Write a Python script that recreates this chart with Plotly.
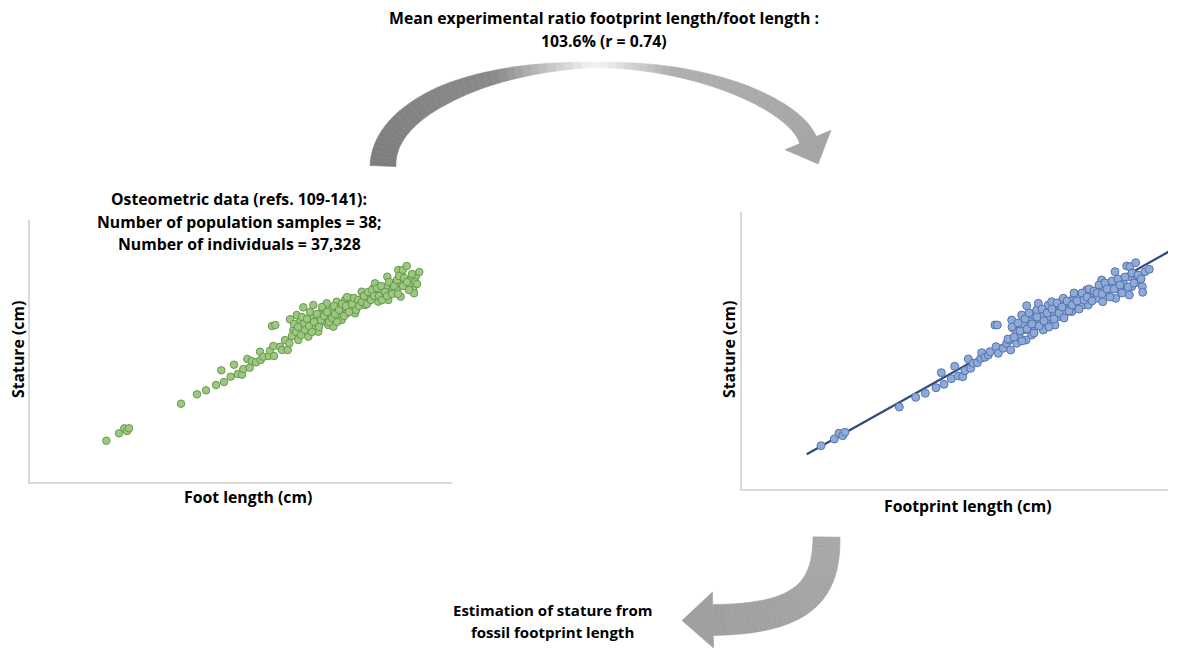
import numpy as np
import plotly.graph_objects as go

W, H = 1187, 640   # page body keeps an 8px margin
OFF = 8

# ---------------- data (arbitrary plot units) ----------------
foot_length = [76.3, 89, 94.3, 97, 99, 151, 167, 176, 186, 194, 191.3, 200.7, 204, 207.7, 212, 213.3,
               217.3, 219.7, 221.7, 226, 230, 230.7, 233.3, 238.7, 240, 243.3, 244, 242, 245.3, 250,
               252, 255, 257.7, 259.3, 260, 263.3, 266.7, 268.3, 270, 273.3, 274, 276.7, 278.3, 281.7,
               283.3, 285, 286.7, 288.3, 290, 293.3, 295, 296.7, 298.3, 300, 301.7, 303.3, 306.7, 308.3,
               310, 311.7, 313.3, 315, 316.7, 318.3, 320, 321.7, 323.3, 325, 326.7, 330, 331.7, 333.3,
               335, 336.7, 340, 343.3, 345, 346.7, 348.3, 350, 353.3, 356.7, 357.3, 358.3, 360, 361.7,
               363.3, 366.7, 368.3, 370, 370.7, 371.7, 372.7, 375, 376.7, 378.3, 380, 381.7, 383.3, 384,
               386, 389.3,
               262, 264, 266, 268, 271, 272, 275, 277, 279, 280, 282, 284, 287, 289, 291, 292, 294, 297,
               299, 302, 304, 305, 307, 309, 312, 314, 316, 317, 319, 322, 324, 326, 328, 329, 332, 334,
               337, 338, 341, 342, 344, 347, 349, 351, 352, 355, 357, 359, 362, 364, 367, 368, 369, 373,
               374, 377, 379, 382, 385, 387]
stature_foot = [41.3, 48.7, 53.7, 51, 53.7, 78.3, 87.7, 91.7, 97, 100, 111.7, 105.3, 117.3, 108, 107.3, 113,
                123, 114.3, 121, 119.7, 130.3, 122, 125.3, 126, 131.3, 136, 126, 156, 157, 135.3,
                132, 142, 132, 138.7, 162.7, 152, 167, 142, 160.3, 174.7, 158.7, 148.7, 145.3, 165.3,
                177, 155.3, 162, 150.3, 168.7, 173.7, 160.3, 178.7, 157, 165.3, 172, 155.3, 180.3, 167,
                175.3, 162, 172, 182, 168.7, 177, 183.7, 173.7, 180.3, 168.7, 178.7, 182, 190.3, 185.3,
                177, 183.7, 187, 193.7, 198.7, 188.7, 180.3, 192, 185.3, 195.3, 205.3, 182, 190.3, 198.7,
                193.7, 192, 212, 198.7, 185.3, 207, 212, 202, 216, 195.3, 198.7, 205.3, 192, 188.7,
                206, 210,
                146, 158, 150, 155, 147, 165, 152, 163, 156, 170, 150, 160, 168, 155, 162, 175, 166, 170,
                160, 164, 176, 168, 160, 172, 178, 166, 176, 185, 170, 178, 184, 172, 182, 176, 180, 186,
                178, 190, 182, 192, 186, 194, 186, 196, 182, 190, 186, 200, 188, 196, 202, 188, 206, 196,
                204, 200, 192, 208, 200, 198]

footprint_length = [79, 92.3, 97, 100.7, 103, 157.3, 173.7, 183.3, 194, 199.3, 202, 209.3, 212.7, 216.3,
                    220.7, 223, 226.3, 228.7, 231.3, 235.3, 238.7, 239.7, 243, 246.3, 248, 253, 255.3, 254,
                    256.3, 261.3, 264.7, 267.3, 268.7, 269.7, 271.3, 274.7, 275.3, 278, 279.7, 281.3, 284,
                    284.7, 286.3, 288, 289.7, 291.3, 293, 294.7, 296.3, 298, 299.7, 301.3, 303, 304.7,
                    306.3, 308, 309.7, 311.3, 313, 314.7, 316.3, 318, 319.7, 321.3, 323, 324.7, 328, 329.7,
                    331.3, 333, 334.7, 336.3, 338, 341.3, 344.7, 346.3, 348, 351.3, 354.7, 359.7, 360.7,
                    361.3, 364.7, 368, 373, 373.7, 374.7, 378, 381.3, 384.7, 386.3, 387.3, 388, 389.7,
                    393.7, 394.7, 397, 400.3, 400.7, 403, 407.3,
                    266, 270, 272, 276, 278, 280, 283, 285, 287, 290, 292, 295, 297, 300, 302, 305, 307,
                    310, 312, 315, 317, 320, 322, 325, 327, 330, 332, 335, 337, 340, 342, 345, 347, 350,
                    352, 355, 357, 360, 363, 365, 368, 370, 372, 376, 378, 380, 383, 386, 390, 392, 396, 399]
stature_print = [43.3, 50, 55.7, 53.3, 56.7, 82, 91.7, 95.7, 101.3, 116.3, 104.7, 110.3, 122.7, 113,
                 112.3, 118.3, 130, 120.7, 125.7, 126.3, 130.7, 136.3, 131.7, 134, 137.3, 164, 164, 142.3,
                 135.7, 140.7, 145.7, 149, 139, 169, 160.7, 145.7, 157.3, 150.7, 174, 164, 149,
                 183.3, 159, 169, 154, 174, 162.3, 179, 185.7, 167.3, 172.3, 159, 179, 165.7,
                 184, 172.3, 187.3, 177.3, 164, 182.3, 172.3, 179, 187.3, 190.7, 175.7, 182.3, 185.7, 177.3,
                 190.7, 194, 182.3, 187.3, 192.3, 184, 199, 184, 192.3, 195.7, 190.7, 209, 187.3,
                 199, 195.7, 202.3, 217.3, 190.7, 205.7, 199, 205.7, 223, 212.3, 194, 222.3, 202.3,
                 226.3, 212.3, 206.3, 202.3, 196.7, 217.3, 219.7,
                 150, 162, 152, 166, 158, 148, 170, 160, 176, 165, 156, 172, 163, 180, 168, 176, 162,
                 180, 170, 186, 176, 182, 171, 188, 178, 184, 196, 188, 180, 196, 189, 192, 200, 188,
                 198, 196, 204, 195, 206, 200, 192, 208, 200, 210, 204, 196, 212, 202, 216, 206, 214, 210]

fit_x = [64.7, 428]
fit_y = [34.7, 238]

# ---------------- helpers (screen pixel -> paper) ----------------
def px(x):
    return (x - OFF) / W

def py(y):
    return 1 - (y - OFF) / H

def poly_path(pts):
    return "M " + " L ".join(f"{px(a):.5f},{py(b):.5f}" for a, b in pts) + " Z"

def bezier(p, t):
    p0, p1, p2, p3 = [np.array(q, float) for q in p]
    return ((1 - t) ** 3)[:, None] * p0 + (3 * (1 - t) ** 2 * t)[:, None] * p1 + \
           (3 * (1 - t) * t ** 2)[:, None] * p2 + (t ** 3)[:, None] * p3

def band(beziers, thick_pts, grey_pts, n=40):
    pts = np.vstack([bezier(b, np.linspace(0, 1, n, endpoint=(i == len(beziers) - 1)))
                     for i, b in enumerate(beziers)])
    m = len(pts)
    s = np.linspace(0, 1, m)
    tan = np.gradient(pts, axis=0)
    tan /= np.linalg.norm(tan, axis=1)[:, None]
    nor = np.stack([-tan[:, 1], tan[:, 0]], axis=1)
    th = np.interp(s, *zip(*thick_pts)) / 2
    g = np.interp(s, *zip(*grey_pts))
    a = pts + nor * th[:, None]
    b = pts - nor * th[:, None]
    shapes = []
    for i in range(m - 1):
        gg = int(round((g[i] + g[i + 1]) / 2))
        col = f"rgb({gg},{gg},{gg})"
        shapes.append(dict(type="path", xref="paper", yref="paper",
                           path=poly_path([a[i], a[i + 1], b[i + 1], b[i]]),
                           fillcolor=col, line=dict(color=col, width=0.6), layer="below"))
    return shapes, pts[-1], tan[-1], nor[-1], int(round(g[-1]))

def head(c, t, nrm, half, length, grey):
    col = f"rgb({grey},{grey},{grey})"
    p1 = c + nrm * half
    p2 = c + t * length
    p3 = c - nrm * half
    return dict(type="path", xref="paper", yref="paper", path=poly_path([p1, p2, p3]),
                fillcolor=col, line=dict(color=col, width=0.6), layer="below")

shapes = []
# top arc arrow
s1, c1, t1, n1, g1 = band(
    [[(383, 166), (383, 108), (480, 65), (600, 65)],
     [(600, 65), (705, 65), (795, 105), (808, 140)]],
    [(0, 26), (0.25, 19), (0.5, 5), (0.75, 13), (1, 18)],
    [(0, 125), (0.35, 138), (0.5, 245), (0.62, 175), (1, 165)])
shapes += s1
shapes.append(head(c1, t1, n1, 25, 26, g1))
# bottom hook arrow
s2, c2, t2, n2, g2 = band(
    [[(826.5, 537), (826.5, 590), (805, 619), (713, 620)]],
    [(0, 27), (1, 31)],
    [(0, 168), (1, 160)])
shapes += s2
shapes.append(head(c2, t2, n2, 28, 31, g2))

# ---------------- figure ----------------
fig = go.Figure()
fig.add_trace(go.Scatter(x=foot_length, y=stature_foot, mode="markers", xaxis="x", yaxis="y",
                         marker=dict(size=7.5, color="#9cc97f", line=dict(color="#6a9750", width=1)),
                         showlegend=False, hoverinfo="skip"))
fig.add_trace(go.Scatter(x=fit_x, y=fit_y, mode="lines", xaxis="x2", yaxis="y2",
                         line=dict(color="#2e4a78", width=2.2), showlegend=False, hoverinfo="skip"))
fig.add_trace(go.Scatter(x=footprint_length, y=stature_print, mode="markers", xaxis="x2", yaxis="y2",
                         marker=dict(size=8, color="#8eaadb", line=dict(color="#5874ab", width=1)),
                         showlegend=False, hoverinfo="skip"))

ax_common = dict(showticklabels=False, showgrid=False, zeroline=False, ticks="",
                 showline=True, linecolor="#d9d9d9", linewidth=1.5)

fig.update_layout(
    width=W, height=H, margin=dict(l=0, r=0, t=0, b=0),
    paper_bgcolor="white", plot_bgcolor="white",
    xaxis=dict(domain=[px(30), px(452)], range=[0, 422], anchor="y", **ax_common),
    yaxis=dict(domain=[py(482), py(220)], range=[0, 262], anchor="x", **ax_common),
    xaxis2=dict(domain=[px(742), px(1168)], range=[0, 426], anchor="y2", **ax_common),
    yaxis2=dict(domain=[py(489), py(212)], range=[0, 277], anchor="x2", **ax_common),
    shapes=shapes,
    font=dict(family="'Open Sans', sans-serif", color="black"),
)

def note(text, x, y, angle=0, size=15.8):
    fig.add_annotation(text=f"<b>{text}</b>", x=px(x), y=py(y), xref="paper", yref="paper",
                       showarrow=False, xanchor="center", yanchor="middle", textangle=angle,
                       font=dict(family="'Open Sans', sans-serif", size=size, color="black"))

note("Mean experimental ratio footprint length/foot length :", 604, 18)
note("103.6% (r = 0.74)", 604, 41)
note("Osteometric data (refs. 109-141):", 239, 199)
note("Number of population samples = 38;", 239, 222)
note("Number of individuals = 37,328", 239, 244)
note("Stature (cm)", 18, 350, -90)
note("Foot length (cm)", 248, 497)
note("Stature (cm)", 729, 350, -90)
note("Footprint length (cm)", 968, 506)
note("Estimation of stature from", 552, 610, size=15)
note("fossil footprint length", 552, 632, size=15)

fig.write_html("out.html")
